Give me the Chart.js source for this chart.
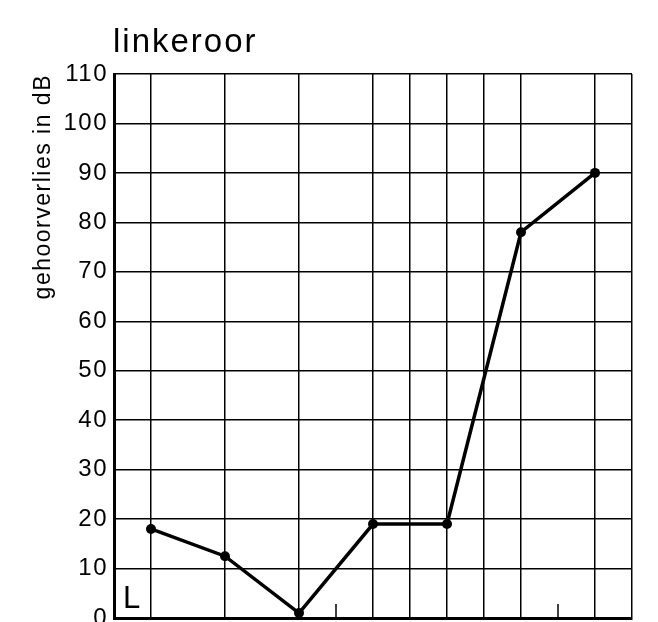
<!DOCTYPE html>
<html>
<head>
<meta charset="utf-8">
<script src="https://cdn.jsdelivr.net/npm/chart.js@4"></script>
<style>
  html, body { margin: 0; padding: 0; background: #fff; overflow: hidden; }
  #wrap { width: 658px; height: 660px; }
</style>
</head>
<body>
<div id="wrap"><canvas id="audiogram" width="658" height="660"></canvas></div>
<script>
// audiogram, left ear
const frequencies = ['125', '250', '500', '1000', '2000', '4000', '8000'];
const octavePos = [0, 1, 2, 3, 4, 5, 6];
const lossDb = [18, 12.5, 1, 19, 19, 78, 90];

// vertical grid (octaves plus the 1500 and 3000 half-octaves)
const gridPos = [0, 1, 2, 3, 3.5, 4, 4.5, 5, 6, 6.5];
// short marks at 750 and 6000 Hz
const minorPos = [2.5, 5.5];
const yTicks = [0, 10, 20, 30, 40, 50, 60, 70, 80, 90, 100, 110];

const FONT = '"Liberation Sans", Arial, sans-serif';

const extras = {
  id: 'extras',
  beforeDraw(chart) {
    chart.ctx.letterSpacing = '1.5px';
  },
  afterDraw(chart) {
    const ctx = chart.ctx;
    const area = chart.chartArea;
    const xs = chart.scales.x;
    ctx.save();
    ctx.fillStyle = '#000';
    ctx.strokeStyle = '#000';

    // title, left aligned with the plot
    ctx.letterSpacing = '2px';
    ctx.font = '33px ' + FONT;
    ctx.textAlign = 'left';
    ctx.textBaseline = 'alphabetic';
    ctx.fillText('linkeroor', area.left - 1, 52);

    // ear marker
    ctx.letterSpacing = '0px';
    ctx.font = '31px ' + FONT;
    ctx.fillText('L', area.left + 9, area.bottom - 10);

    // small ticks on the bottom axis
    ctx.lineWidth = 1.5;
    minorPos.forEach(p => {
      const x = xs.getPixelForValue(p);
      ctx.beginPath();
      ctx.moveTo(x, area.bottom);
      ctx.lineTo(x, area.bottom - 14);
      ctx.stroke();
    });
    ctx.restore();
  }
};

new Chart(document.getElementById('audiogram'), {
  type: 'line',
  data: {
    labels: frequencies,
    datasets: [{
      label: 'linkeroor',
      data: octavePos.map((p, i) => ({ x: p, y: lossDb[i] })),
      borderColor: '#000',
      backgroundColor: '#000',
      borderWidth: 3.5,
      pointRadius: 5,
      pointBackgroundColor: '#000',
      pointBorderWidth: 0,
      tension: 0
    }]
  },
  options: {
    responsive: false,
    animation: false,
    devicePixelRatio: 1,
    layout: { padding: { top: 74, right: 26, bottom: 42, left: 0 } },
    plugins: {
      legend: { display: false },
      tooltip: { enabled: false }
    },
    scales: {
      x: {
        type: 'linear',
        min: -0.5,
        max: 6.5,
        afterBuildTicks: (scale) => {
          scale.ticks = gridPos.map(v => ({ value: v }));
        },
        afterFit: (scale) => { scale.height = 0; },
        ticks: { display: false },
        grid: { color: '#000', lineWidth: 1.5, drawTicks: false },
        border: { color: '#000', width: 3 }
      },
      y: {
        min: 0,
        max: 110,
        afterBuildTicks: (scale) => {
          scale.ticks = yTicks.map(v => ({ value: v }));
        },
        afterFit: (scale) => { scale.width = 114; },
        ticks: {
          color: '#000',
          padding: 6,
          font: { family: FONT, size: 24 }
        },
        grid: { color: '#000', lineWidth: 1.5, drawTicks: false },
        border: { color: '#000', width: 3 },
        title: {
          display: true,
          text: 'gehoorverlies in dB',
          align: 'end',
          color: '#000',
          padding: { top: 30, bottom: 0 },
          font: { family: FONT, size: 23 }
        }
      }
    }
  },
  plugins: [extras]
});
</script>
</body>
</html>
